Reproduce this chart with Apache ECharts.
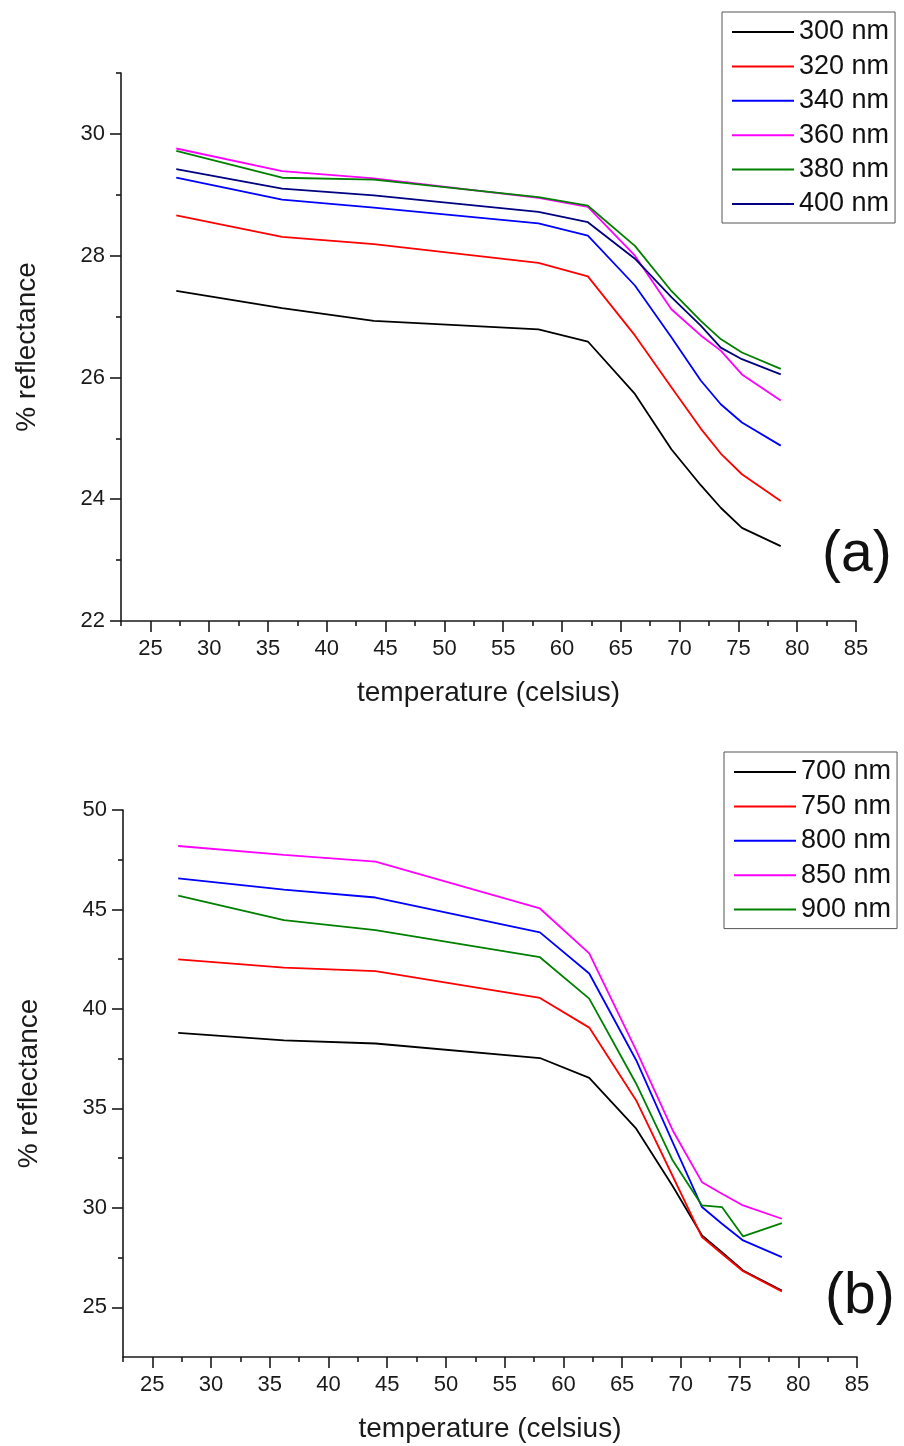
<!DOCTYPE html>
<html><head><meta charset="utf-8">
<script src="https://cdn.jsdelivr.net/npm/echarts@6/dist/echarts.min.js"></script>
<style>html,body{margin:0;padding:0;background:#fff}#c{width:904px;height:1446px}</style>
</head><body><div id="c"></div>
<script>
// temperatures (celsius) of the measurement points
const temps = [27.2, 36.2, 44.0, 58.0, 62.2, 66.2, 69.3, 71.8, 73.5, 75.3, 78.6];

// panel (a) – % reflectance
const namesA = ['300 nm', '320 nm', '340 nm', '360 nm', '380 nm', '400 nm'];
const r300 = [27.42, 27.14, 26.93, 26.79, 26.59, 25.73, 24.82, 24.23, 23.86, 23.53, 23.23];
const r320 = [28.66, 28.31, 28.19, 27.88, 27.66, 26.69, 25.84, 25.16, 24.75, 24.41, 23.97];
const r340 = [29.28, 28.92, 28.79, 28.53, 28.33, 27.51, 26.66, 25.95, 25.56, 25.26, 24.88];
const r360 = [29.76, 29.39, 29.27, 28.95, 28.80, 28.00, 27.12, 26.69, 26.44, 26.05, 25.62];
const r380 = [29.72, 29.28, 29.25, 28.96, 28.82, 28.16, 27.42, 26.93, 26.63, 26.41, 26.14];
const r400 = [29.42, 29.10, 28.99, 28.72, 28.55, 27.95, 27.32, 26.85, 26.49, 26.30, 26.05];

// panel (b) – % reflectance
const namesB = ['700 nm', '750 nm', '800 nm', '850 nm', '900 nm'];
const r700 = [38.79, 38.42, 38.26, 37.53, 36.53, 33.98, 31.10, 28.61, 27.77, 26.85, 25.84];
const r750 = [42.49, 42.08, 41.90, 40.55, 39.06, 35.40, 31.60, 28.53, 27.69, 26.81, 25.80];
const r800 = [46.56, 46.00, 45.60, 43.85, 41.78, 37.42, 33.30, 30.04, 29.20, 28.36, 27.52];
const r850 = [48.19, 47.74, 47.40, 45.05, 42.79, 37.92, 33.90, 31.29, 30.71, 30.12, 29.45];
const r900 = [45.69, 44.46, 43.96, 42.60, 40.52, 36.24, 32.39, 30.12, 30.04, 28.56, 29.23];

// tick values
const xMajor = [25, 30, 35, 40, 45, 50, 55, 60, 65, 70, 75, 80, 85];
const xMinor = [22.5, 27.5, 32.5, 37.5, 42.5, 47.5, 52.5, 57.5, 62.5, 67.5, 72.5, 77.5, 82.5];
const yMajorA = [22, 24, 26, 28, 30];
const yMinorA = [23, 25, 27, 29, 31];
const yMajorB = [25, 30, 35, 40, 45, 50];
const yMinorB = [27.5, 32.5, 37.5, 42.5, 47.5];

const colorsA = ['#000000', '#ff0000', '#0000ff', '#ff00ff', '#008000', '#000080'];
const colorsB = ['#000000', '#ff0000', '#0000ff', '#ff00ff', '#008000'];
const FONT = 'Liberation Sans, Arial, sans-serif';
const AX = '#1a1a1a';

function xMain(g) {
  return {
    type: 'value', gridIndex: g, min: 22.5, max: 85, interval: 2.5, position: 'bottom',
    axisLine: { show: true, onZero: false, lineStyle: { color: AX, width: 1.6 } },
    axisTick: { show: true, customValues: xMajor, length: 11, lineStyle: { color: AX, width: 1.6 } },
    axisLabel: { customValues: xMajor, fontSize: 22, color: AX, margin: 17, fontFamily: FONT },
    splitLine: { show: false },
    name: 'temperature (celsius)', nameLocation: 'middle', nameGap: 58,
    nameTextStyle: { fontSize: 28, color: AX, fontFamily: FONT }
  };
}
function xMin(g) {
  return {
    type: 'value', gridIndex: g, min: 22.5, max: 85, interval: 2.5, position: 'bottom',
    axisLine: { show: false, onZero: false },
    axisTick: { show: true, customValues: xMinor, length: 5, lineStyle: { color: AX, width: 1.6 } },
    axisLabel: { show: false }, splitLine: { show: false }
  };
}
function yMain(g, min, max, interval, major) {
  return {
    type: 'value', gridIndex: g, min: min, max: max, interval: interval, position: 'left',
    axisLine: { show: true, onZero: false, lineStyle: { color: AX, width: 1.6 } },
    axisTick: { show: true, customValues: major, length: 11, lineStyle: { color: AX, width: 1.6 } },
    axisLabel: { customValues: major, fontSize: 22, color: AX, margin: 16, fontFamily: FONT },
    splitLine: { show: false },
    name: '% reflectance', nameLocation: 'middle', nameGap: 80,
    nameTextStyle: { fontSize: 28, color: AX, fontFamily: FONT }
  };
}
function yMin(g, min, max, interval, minor) {
  return {
    type: 'value', gridIndex: g, min: min, max: max, interval: interval, position: 'left',
    axisLine: { show: false, onZero: false },
    axisTick: { show: true, customValues: minor, length: 5, lineStyle: { color: AX, width: 1.6 } },
    axisLabel: { show: false }, splitLine: { show: false }
  };
}

function mkSeries(name, arr, color, xi, yi) {
  return {
    name: name, type: 'line', xAxisIndex: xi, yAxisIndex: yi,
    data: temps.map((t, i) => [t, arr[i]]),
    showSymbol: false, symbol: 'none', color: color,
    lineStyle: { width: 1.8, color: color }, animation: false, z: 3
  };
}

const seriesA = [r300, r320, r340, r360, r380, r400].map((a, i) => mkSeries(namesA[i], a, colorsA[i], 0, 0));
const seriesB = [r700, r750, r800, r850, r900].map((a, i) => mkSeries(namesB[i], a, colorsB[i], 2, 2));

function legend(names, left, top) {
  return {
    data: names, orient: 'vertical', left: left, top: top, icon: 'rect',
    itemWidth: 62, itemHeight: 2, itemGap: 4.4,
    borderColor: '#555', borderWidth: 1, padding: [5, 6, 4, 10],
    textStyle: { fontSize: 27, lineHeight: 30, color: '#111', fontFamily: FONT },
    selectedMode: false
  };
}

const chart = echarts.init(document.getElementById('c'), null, { renderer: 'canvas' });
chart.setOption({
  animation: false,
  backgroundColor: '#ffffff',
  textStyle: { fontFamily: FONT },
  grid: [
    { left: 121, top: 73, width: 735, height: 548 },
    { left: 123, top: 810, width: 734, height: 547 }
  ],
  xAxis: [xMain(0), xMin(0), xMain(1), xMin(1)],
  yAxis: [
    yMain(0, 22, 31, 1, yMajorA), yMin(0, 22, 31, 1, yMinorA),
    yMain(1, 22.5, 50, 2.5, yMajorB), yMin(1, 22.5, 50, 2.5, yMinorB)
  ],
  legend: [legend(namesA, 722, 12), legend(namesB, 724, 752)],
  graphic: [
    { type: 'text', left: 822, top: 527, style: { text: '(a)', fontSize: 57, fill: '#111', fontFamily: FONT } },
    { type: 'text', left: 825, top: 1269, style: { text: '(b)', fontSize: 57, fill: '#111', fontFamily: FONT } }
  ],
  series: seriesA.concat(seriesB)
});
</script>
</body></html>
